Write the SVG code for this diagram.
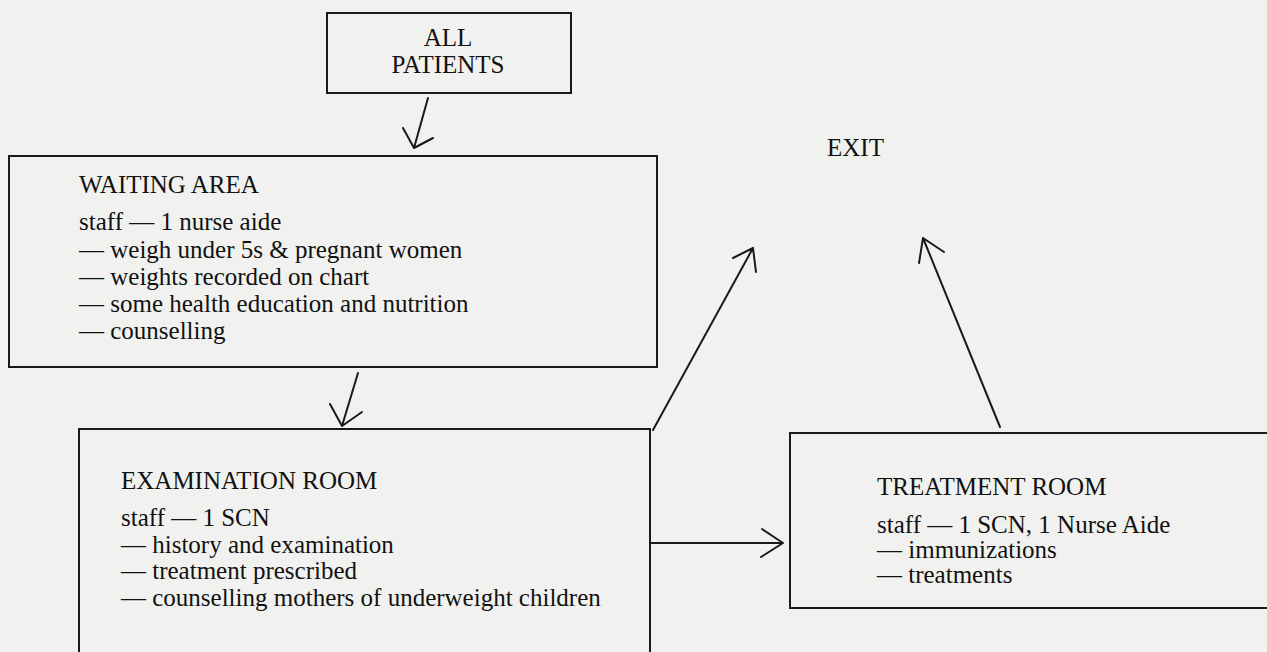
<svg xmlns="http://www.w3.org/2000/svg" width="1267" height="652" viewBox="0 0 1267 652">
<style>
.box{fill:none;stroke:#1a1a1a;stroke-width:2}
.ln{fill:none;stroke:#1a1a1a;stroke-width:2;stroke-linecap:round;stroke-linejoin:round}
text{font-family:"Liberation Serif","Times New Roman",serif;font-size:25px;fill:#111}
</style>
<rect x="0" y="0" width="1267" height="652" fill="#f1f1ef"/>
<g id="all-patients">
<rect class="box" x="327" y="13" width="244" height="80"/>
<text x="448" y="46" text-anchor="middle">ALL</text>
<text x="448" y="73" text-anchor="middle">PATIENTS</text>
</g>
<g id="exit">
<text x="827" y="156">EXIT</text>
</g>
<g id="waiting-area">
<rect class="box" x="9" y="156" width="648" height="211"/>
<text x="79" y="193">WAITING AREA</text>
<text x="79" y="230">staff — 1 nurse aide</text>
<text x="79" y="258">— weigh under 5s &amp; pregnant women</text>
<text x="79" y="285">— weights recorded on chart</text>
<text x="79" y="312">— some health education and nutrition</text>
<text x="79" y="339">— counselling</text>
</g>
<g id="examination-room">
<path class="box" d="M79,660 V429 H650 V660"/>
<text x="121" y="489">EXAMINATION ROOM</text>
<text x="121" y="526">staff — 1 SCN</text>
<text x="121" y="553">— history and examination</text>
<text x="121" y="579">— treatment prescribed</text>
<text x="121" y="606">— counselling mothers of underweight children</text>
</g>
<g id="treatment-room">
<path class="box" d="M1270,433 H790 V608 H1270"/>
<text x="877" y="495">TREATMENT ROOM</text>
<text x="877" y="533">staff — 1 SCN, 1 Nurse Aide</text>
<text x="877" y="558">— immunizations</text>
<text x="877" y="583">— treatments</text>
</g>
<g id="connectors">
<path class="ln" d="M428,98 L414,148 M403,128 L414,148 L433,138"/>
<path class="ln" d="M358,373 L342,426 M330,404 L342,426 L362,412"/>
<path class="ln" d="M653,430 L753,248 M733,258 L753,248 L756,272"/>
<path class="ln" d="M1000,427 L923,238 M919,263 L923,238 L944,252"/>
<path class="ln" d="M650,543 L783,543 M762,529 L783,543 L761,557"/>
</g>
</svg>
